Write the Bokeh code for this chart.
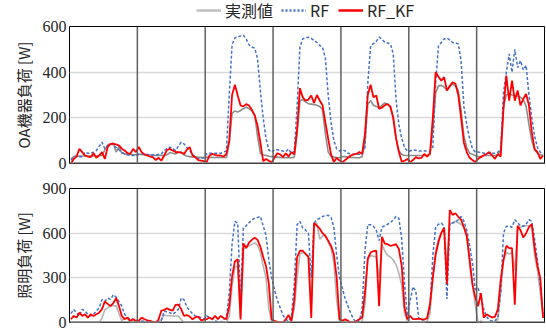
import numpy as np
from bokeh.plotting import figure
from bokeh.models import Range1d, Span, Legend, LegendItem, FixedTicker
from bokeh.layouts import column
from bokeh.embed import file_html
from bokeh.resources import INLINE

# ---------------- data (hourly, 7 days) ----------------
days = 7
hours_per_day = 24

oa_measured_days = [
    [20,30,32,33,33,33,33,33,33,33,35,35,60,80,85,90,50,75,45,42,40,40,38,38],
    [40,40,38,38,37,36,35,35,35,36,38,48,45,42,48,50,38,33,30,28,28,27,27,26],
    [28,27,27,26,26,26,26,26,90,220,230,225,232,240,247,240,230,215,120,45,38,35,32,30],
    [30,28,26,25,25,25,25,28,130,275,280,270,262,260,258,255,250,235,130,50,32,28,26,25],
    [30,30,28,27,26,25,25,30,90,260,275,255,250,245,255,265,260,245,200,110,55,40,35,35],
    [35,35,35,35,35,35,35,38,150,310,340,342,335,320,335,349,340,320,230,120,70,45,40,35],
    [30,32,35,35,35,35,35,38,60,250,300,305,300,298,295,290,280,250,170,100,60,45,38,35],
]
oa_rf_days = [
    [15,25,35,30,30,50,45,45,50,57,75,93,64,79,86,80,70,60,50,42,38,36,35,35],
    [40,40,40,40,38,38,38,40,42,57,65,72,65,57,75,93,86,70,57,40,28,22,22,25],
    [42,45,45,45,45,45,50,55,300,520,550,555,558,562,545,520,510,505,460,320,200,110,60,50],
    [60,60,57,55,52,64,42,55,250,510,546,550,553,548,539,530,517,509,460,300,180,100,64,55],
    [60,55,45,42,40,40,40,48,70,350,515,525,535,553,545,531,528,524,480,280,170,110,70,55],
    [55,60,58,55,55,55,55,55,70,350,515,530,545,550,540,530,528,524,450,250,170,110,65,50],
    [50,48,45,45,45,45,45,50,60,310,400,480,400,500,420,450,410,430,300,200,120,70,50,40],
]
oa_rfkf_days = [
    [0,20,30,64,50,35,30,28,45,25,35,50,20,72,86,86,84,79,65,57,45,42,64,50],
    [72,50,40,35,30,28,15,25,13,35,60,64,57,50,50,48,42,60,72,35,28,15,13,10],
    [6,35,42,38,35,35,30,42,100,300,345,298,254,250,260,254,235,210,166,93,10,20,12,5],
    [25,45,40,28,45,30,50,40,150,330,290,275,280,298,265,300,276,255,180,108,40,6,25,13],
    [5,15,25,35,40,42,50,42,130,300,345,290,298,240,245,255,260,250,200,110,50,8,12,20],
    [6,15,28,22,25,42,30,45,200,400,380,363,378,320,340,356,349,300,200,90,50,25,15,6],
    [20,28,35,42,50,35,20,42,30,240,385,275,363,275,320,254,283,305,254,137,64,50,20,35],
]

light_measured_days = [
    [0,0,0,0,0,0,0,0,0,0,0,30,85,100,110,115,110,60,10,30,25,0,0,0],
    [0,0,0,0,0,0,0,0,20,50,45,45,44,44,44,20,0,0,0,0,0,0,0,0],
    [0,0,0,0,0,0,0,0,40,250,370,380,30,490,505,515,525,535,520,470,380,300,90,10],
    [0,0,0,0,0,0,10,90,300,460,471,465,450,100,660,668,560,580,590,540,500,400,150,5],
    [0,0,0,0,0,0,0,10,120,420,450,445,440,300,525,480,450,440,420,390,330,250,60,10],
    [0,0,0,0,0,0,10,60,300,480,560,600,640,372,660,670,680,670,660,640,600,385,263,120],
    [0,10,0,0,0,0,0,20,200,420,470,460,470,350,640,640,650,650,650,650,450,350,200,30],
]
light_rf_days = [
    [60,88,66,44,88,77,55,44,55,77,100,153,142,164,155,186,170,140,110,55,33,22,22,20],
    [11,10,8,5,5,5,5,8,15,77,70,66,55,70,88,164,153,105,80,60,44,38,33,22],
    [44,33,22,11,5,0,20,33,197,526,679,668,150,635,650,670,690,700,705,712,650,585,420,300],
    [220,150,100,50,20,10,40,260,657,679,635,620,600,300,668,690,700,712,718,720,705,640,450,300],
    [230,160,110,60,22,0,11,88,482,657,657,646,620,550,640,650,660,670,690,712,700,560,263,44],
    [150,240,210,30,15,20,25,100,450,640,660,668,646,158,668,668,675,690,712,680,620,520,400,220],
    [230,180,88,40,15,10,10,40,200,600,646,646,640,690,670,650,646,660,690,680,560,420,250,60],
]
light_rfkf_days = [
    [22,44,33,66,44,55,33,55,44,55,66,90,142,125,110,131,164,110,44,22,33,11,22,11],
    [11,33,22,15,11,5,0,20,80,85,95,85,80,118,120,90,45,50,40,22,35,40,15,20],
    [22,33,22,44,22,44,30,22,110,310,410,425,20,530,500,537,555,570,555,510,440,380,260,20],
    [11,5,0,0,22,50,11,150,438,482,482,460,440,30,668,650,630,600,580,550,515,460,300,22],
    [11,22,11,0,0,10,22,33,200,430,470,480,482,110,575,530,526,515,520,526,493,380,100,22],
    [44,22,22,26,22,20,30,125,302,455,541,602,635,258,756,723,734,710,690,640,580,427,258,170],
    [110,197,33,55,44,33,40,88,285,420,515,500,500,120,650,620,570,600,640,660,500,380,300,30],
]

oa_ticks = [0, 200, 400, 600]
light_ticks = [0, 300, 600, 900]
legend_labels = ["実測値", "RF", "RF_KF"]
oa_label = "OA機器負荷 [W]"
light_label = "照明負荷 [W]"

def flat(d):
    return [v for day in d for v in day]

hours = list(range(days * hours_per_day))
oa_measured = flat(oa_measured_days)
oa_rf = flat(oa_rf_days)
oa_rfkf = flat(oa_rfkf_days)
light_measured = flat(light_measured_days)
light_rf = flat(light_rf_days)
light_rfkf = flat(light_rfkf_days)

CJK = "Noto Sans CJK JP"
NUM = "Liberation Sans Narrow"

FIG_W = 546
BORDER_L = 69
BORDER_R = 2

COL_GRAY_TOP = "#8c8c8c"
COL_GRAY_BOT = "#b4b4b4"
COL_RF = "#4472C4"
COL_KF = "#FF0000"


def make_fig(height, ticks, label, measured, rf, rfkf, gray, top, bottom):
    p = figure(width=FIG_W, height=height, title=None,
               x_range=Range1d(-0.5, days * hours_per_day - 0.5),
               y_range=Range1d(ticks[0], ticks[-1]),
               output_backend="svg", toolbar_location=None,
               min_border_left=BORDER_L, min_border_right=BORDER_R,
               min_border_top=top, min_border_bottom=bottom)
    p.xaxis.visible = False
    p.xgrid.visible = False
    p.yaxis.ticker = FixedTicker(ticks=ticks)
    p.yaxis.major_tick_line_color = None
    p.yaxis.minor_tick_line_color = None
    p.yaxis.major_tick_out = 0
    p.yaxis.major_tick_in = 0
    p.yaxis.minor_tick_out = 0
    p.yaxis.axis_line_color = None
    p.yaxis.major_label_standoff = 3
    p.yaxis.major_label_text_font = NUM
    p.yaxis.major_label_text_font_size = "16px"
    p.yaxis.major_label_text_color = "#262626"
    p.yaxis.axis_label = label
    p.yaxis.axis_label_text_font = CJK
    p.yaxis.axis_label_text_font_size = "15px"
    p.yaxis.axis_label_text_font_style = "normal"
    p.yaxis.axis_label_text_color = "#262626"
    p.yaxis.axis_label_standoff = 6
    p.ygrid.ticker = FixedTicker(ticks=ticks[1:-1])
    p.ygrid.grid_line_color = "#d9d9d9"
    p.ygrid.grid_line_width = 1.5
    p.outline_line_color = "black"
    p.outline_line_width = 1
    p.background_fill_color = "white"
    p.border_fill_color = "white"
    for d in range(1, days):
        p.add_layout(Span(location=d * hours_per_day - 0.5, dimension="height",
                          line_color="#606060", line_width=1.5))
    p.add_layout(Span(location=0, dimension="width", line_color="#808080", line_width=2.5))
    r1 = p.line(hours, measured, line_color=gray, line_width=1.6)
    r2 = p.line(hours, rf, line_color=COL_RF, line_width=1.5, line_dash="3 2")
    r3 = p.line(hours, rfkf, line_color=COL_KF, line_width=1.8)
    return p, [r1, r2, r3]


# legend strip (its lines hold the real series but lie outside the strip's y-range)
p0 = figure(width=FIG_W, height=19, title=None,
            x_range=Range1d(-0.5, days * hours_per_day - 0.5), y_range=Range1d(-3000, -2000),
            output_backend="svg", toolbar_location=None,
            x_axis_location=None, y_axis_location=None,
            min_border_left=BORDER_L, min_border_right=BORDER_R,
            min_border_top=0, min_border_bottom=0)
p0.grid.visible = False
p0.outline_line_color = None
lg0 = p0.line(hours, oa_measured, line_color="#bfbfbf", line_width=2.5)
lg1 = p0.line(hours, oa_rf, line_color=COL_RF, line_width=2.5, line_dash="2 2")
lg2 = p0.line(hours, oa_rfkf, line_color=COL_KF, line_width=2.5)
legend = Legend(items=[LegendItem(label=l, renderers=[r]) for l, r in zip(legend_labels, [lg0, lg1, lg2])],
                orientation="horizontal", location=(196 - BORDER_L, -3),
                label_text_font=CJK, label_text_font_size="16px", label_text_color="#262626",
                glyph_width=25, glyph_height=16, label_height=16, label_standoff=4,
                spacing=8, padding=0, margin=0,
                border_line_alpha=0, background_fill_alpha=0)
p0.add_layout(legend)

p1, rs = make_fig(156, oa_ticks, oa_label, oa_measured, oa_rf, oa_rfkf,
                  COL_GRAY_TOP, 7, 12)
p2, _ = make_fig(155, light_ticks, light_label, light_measured, light_rf, light_rfkf,
                 COL_GRAY_BOT, 13, 8)

layout = column(p0, p1, p2, spacing=0)
open("out.html", "w").write(file_html(layout, INLINE))
